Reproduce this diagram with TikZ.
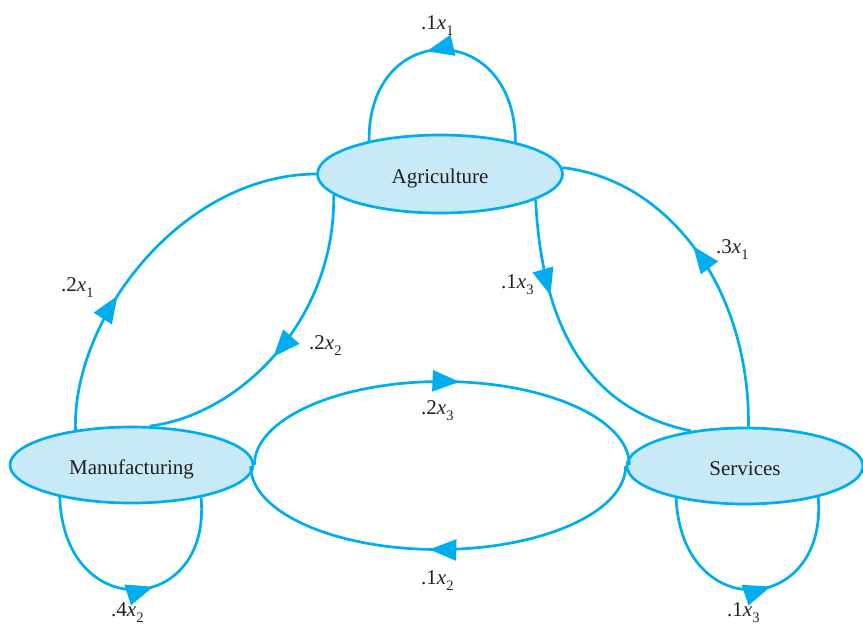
\documentclass[tikz,border=0pt]{standalone}
\usepackage{fontspec}
\setmainfont{Liberation Serif}
\usetikzlibrary{shapes.geometric,arrows.meta,decorations.markings}
\definecolor{flow}{HTML}{00AEEF}
\definecolor{sector}{HTML}{C8EAF8}
\definecolor{ink}{HTML}{231F20}
\newcommand\flowlbl[2]{.#1\textit{x}\raisebox{-0.3em}{\fontsize{14.5}{14.5}\selectfont #2}}
\begin{document}
\begin{tikzpicture}[x=1pt,y=-1pt,
  sectorbox/.style={ellipse,draw=flow,fill=sector,line width=2.7pt,inner sep=0pt,text height=18pt,text depth=0pt,font=\fontsize{21}{24}\selectfont,text=ink},
  flowline/.style={draw=flow,line width=2.7pt},
  flowarrow/.style={postaction={decorate,decoration={markings,mark=at position #1 with {\arrow[color=flow]{Triangle[length=27pt,width=21pt]}}}}},
  flowlabel/.style={anchor=base west,inner sep=0pt,font=\fontsize{21}{24}\selectfont,text=ink}]
\useasboundingbox (0,0) rectangle (863,627);
\node[sectorbox,minimum width=245pt,minimum height=78pt] (agr) at (440,174) {Agriculture};
\node[sectorbox,minimum width=243pt,minimum height=76pt] (manu) at (131.5,465) {Manufacturing};
\node[sectorbox,minimum width=236pt,minimum height=76pt] (serv) at (745,466) {Services};
% self loops
\draw[flowline,flowarrow=0.56] (agr.23.6) .. controls (515,19) and (368,19) .. (agr.155.5);
\draw[flowline,flowarrow=0.58] (manu.204.7) .. controls (64,625) and (212,616) .. (manu.335.6);
\draw[flowline,flowarrow=0.58] (serv.205.5) .. controls (682,625) and (828,616) .. (serv.337);
% connectors between sectors
\draw[flowline,flowarrow=0.37] (manu.148) .. controls (72,320) and (180,175) .. (agr.west);
\draw[flowline,flowarrow=0.55] (agr.191.4) .. controls (336,320) and (240,415) .. (manu.65);
\draw[flowline,flowarrow=0.32] (agr.345) .. controls (542,330) and (590,410) .. (serv.147.7);
\draw[flowline,flowarrow=0.55] (serv.85) .. controls (750,290) and (670,180) .. (agr.3.8);
\draw[flowline,flowarrow=0.54] (manu.east) arc[start angle=180,end angle=0,x radius=187.5pt,y radius=83.5pt];
\draw[flowline,flowarrow=0.52] (serv.west) arc[start angle=0,end angle=-180,x radius=187.5pt,y radius=83.5pt];
% labels
\node[flowlabel] (l11) at (421,29) {\flowlbl{1}{1}};
\node[flowlabel] (l21) at (61,291) {\flowlbl{2}{1}};
\node[flowlabel] (l22) at (309,349) {\flowlbl{2}{2}};
\node[flowlabel] (l31) at (716,253) {\flowlbl{3}{1}};
\node[flowlabel] (l13a) at (501,288) {\flowlbl{1}{3}};
\node[flowlabel] (l23) at (421,414) {\flowlbl{2}{3}};
\node[flowlabel] (l12) at (421,584) {\flowlbl{1}{2}};
\node[flowlabel] (l42) at (111,616) {\flowlbl{4}{2}};
\node[flowlabel] (l13b) at (727,616) {\flowlbl{1}{3}};
\end{tikzpicture}
\end{document}
